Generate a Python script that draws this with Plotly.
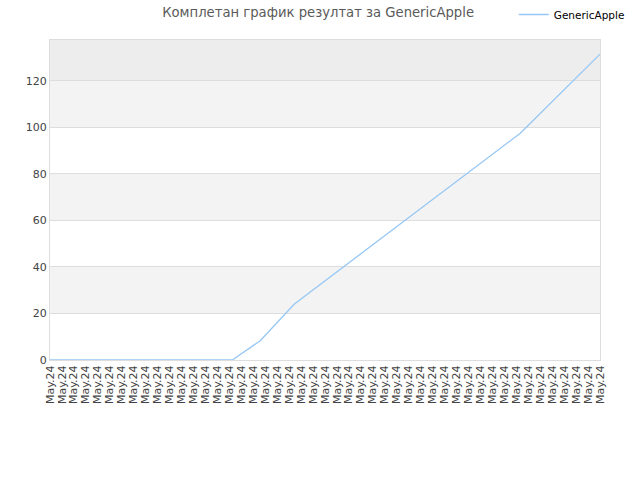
import plotly.graph_objects as go

series_name = "GenericApple"
title_text = "Комплетан график резултат за GenericApple"
times = ["2024-05-01 00:00", "2024-05-08 15:00", "2024-05-09 19:00", "2024-05-11 05:00",
         "2024-05-20 16:00", "2024-05-22 09:00", "2024-05-24 00:00"]
values = [0, 0, 8.3, 24.0, 97.5, 115.1, 131.5]
y_ticks = [0, 20, 40, 60, 80, 100, 120]
y_top = 137.6

fig = go.Figure()
fig.add_trace(go.Scatter(x=times, y=values, mode="lines", name=series_name,
                         line=dict(color="#96c7f4", width=1.3), showlegend=True))

# alternating bands
bands = y_ticks + [y_top]
for i in range(len(bands) - 1):
    if i % 2 == 1 or i == len(bands) - 2:
        col = "#ededed" if i == len(bands) - 2 else "#f3f3f3"
        fig.add_shape(type="rect", xref="paper", yref="y", x0=0, x1=1,
                      y0=bands[i], y1=bands[i + 1], fillcolor=col,
                      line=dict(width=0), layer="below")

fig.update_layout(
    width=640, height=480,
    margin=dict(l=50, r=40, t=40, b=120, autoexpand=False),
    paper_bgcolor="white", plot_bgcolor="white",
    font=dict(family="DejaVu Sans", size=11, color="#444444"),
    title=dict(text=title_text, x=0.497, xanchor="center", xref="container",
               y=0.975, yanchor="middle", yref="container",
               font=dict(family="DejaVu Sans", size=13.2, color="#5a5a5a")),
    legend=dict(xref="container", yref="container", x=0.984, xanchor="right",
                y=1.0, yanchor="top", bgcolor="rgba(0,0,0,0)",
                font=dict(family="DejaVu Sans", size=10.5, color="#000000"),
                itemwidth=30),
    showlegend=True,
)
fig.update_xaxes(type="date", range=[times[0], times[-1]], automargin=False,
                 tick0=times[0], dtick=12 * 3600 * 1000, tickformat="%b.%y",
                 tickangle=-90, showgrid=False, showline=True, linecolor="#dddddd",
                 mirror=True, ticks="", tickfont=dict(size=11, color="#444444"))
fig.update_yaxes(range=[0, y_top], tickvals=y_ticks, showgrid=True, gridcolor="#dddddd",
                 zeroline=False, showline=True, linecolor="#dddddd", mirror=True,
                 automargin=False, ticks="", tickfont=dict(size=11, color="#444444"))

fig.write_html("out.html", config={"displayModeBar": False},
               post_script="document.body.style.margin='0';document.body.style.overflow='hidden';")
